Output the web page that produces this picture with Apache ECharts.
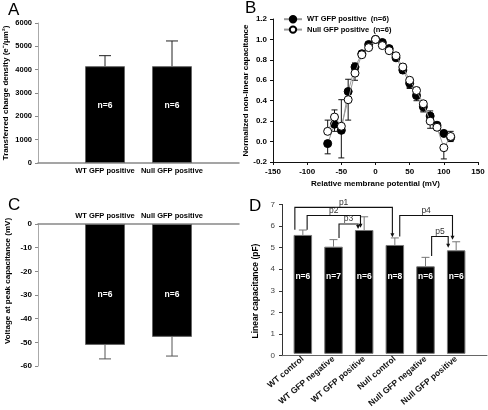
<!DOCTYPE html>
<html><head><meta charset="utf-8">
<script src="https://cdn.jsdelivr.net/npm/echarts@6/dist/echarts.min.js"></script>
<style>html,body{margin:0;padding:0;background:#fff}#c{width:488px;height:410px}</style>
</head><body><div id="c"></div>
<script>
const FONT = 'Liberation Sans, Arial, sans-serif';

// ---- Panel A ----
const catsA = ['WT GFP positive', 'Null GFP positive'];
const chargeDensity = [4150, 4150];
const chargeDensityErrTop = [4600, 5230];
const nA = ['n=6', 'n=6'];

// ---- Panel B ----
const potentials = [-70, -60, -50, -40, -30, -20, -10, 0, 10, 20, 30, 40, 50, 60, 70, 80, 90, 100, 110];
const wtNLC =        [-0.02, 0.17, 0.11, 0.49, 0.73, 0.86, 0.95, 1.00, 0.97, 0.91, 0.82, 0.70, 0.57, 0.45, 0.34, 0.25, 0.16, 0.08, 0.04];
const wtNLCErrTip =  [-0.12, 0.10, -0.16, 0.61, 0.77, 0.88, 0.97, 1.00, 0.98, 0.92, 0.80, 0.67, 0.53, 0.40, 0.30, 0.30, 0.15, 0.10, 0.00];
const nullNLC =      [0.10, 0.24, 0.15, 0.41, 0.67, 0.85, 0.92, 1.00, 0.94, 0.89, 0.84, 0.73, 0.60, 0.50, 0.37, 0.20, 0.14, -0.06, 0.05];
const nullNLCErrTip= [0.21, 0.31, 0.41, 0.21, 0.60, 0.83, 0.90, 1.00, 0.93, 0.87, 0.86, 0.76, 0.52, 0.53, 0.29, 0.13, 0.12, -0.17, 0.10];

// ---- Panel C ----
const catsC = ['WT GFP positive', 'Null GFP positive'];
const peakVoltage = [-51.1, -47.7];
const peakVoltageErrTip = [-57.0, -55.8];
const nC = ['n=6', 'n=6'];

// ---- Panel D ----
const catsD = ['WT control', 'WT GFP negative', 'WT GFP positive', 'Null control', 'Null GFP negative', 'Null GFP positive'];
const linearCap = [5.57, 5.02, 5.80, 5.10, 4.10, 4.85];
const linearCapErrTop = [5.80, 5.35, 6.42, 5.43, 4.52, 5.25];
const nD = ['n=6', 'n=7', 'n=6', 'n=8', 'n=6', 'n=6'];
// comparison brackets: [fromIdx, fromShift, toIdx, toShift, startY, topY, endY, label]
const brackets = [
  [0, -0.26, 3, -0.08, 5.81, 6.86, 5.46, 'p1'],
  [0,  0.14, 2, -0.12, 5.81, 6.48, 5.91, 'p2'],
  [1,  0.18, 2, -0.20, 5.43, 6.08, 5.85, 'p3'],
  [3,  0.16, 5, -0.12, 5.50, 6.48, 5.35, 'p4'],
  [4,  0.20, 5, -0.26, 4.58, 5.50, 4.97, 'p5']
];

function errRender(capW, color) {
  return function (params, api) {
    const x = api.value(0), v = api.value(1), tip = api.value(2);
    const p0 = api.coord([x, v]);
    const p1 = api.coord([x, tip]);
    return { type: 'group', children: [
      { type: 'line', shape: { x1: p0[0], y1: p0[1], x2: p1[0], y2: p1[1] }, style: { stroke: color, lineWidth: 1 } },
      { type: 'line', shape: { x1: p1[0] - capW / 2, y1: p1[1], x2: p1[0] + capW / 2, y2: p1[1] }, style: { stroke: color, lineWidth: 1 } }
    ]};
  };
}

function labelRender(fontSize) {
  return function (params, api) {
    const p = api.coord([api.value(0), api.value(1)]);
    return { type: 'text', x: p[0], y: p[1], style: {
      text: api.value(2), fontSize: fontSize, fontWeight: 'bold', fontFamily: FONT,
      fill: '#fff', align: 'center', verticalAlign: 'middle' } };
  };
}

function bracketRender(params, api) {
  const b = brackets[params.dataIndex];
  const band = api.size([1, 0])[0];
  const s = api.coord([b[0], b[4]]);
  const t = api.coord([b[0], b[5]]);
  const e = api.coord([b[2], b[6]]);
  const xl = s[0] + b[1] * band;
  const xr = e[0] + b[3] * band;
  const yt = t[1];
  const col = '#111';
  return { type: 'group', children: [
    { type: 'polyline', shape: { points: [[xl, s[1]], [xl, yt], [xr, yt], [xr, e[1] - 3]] }, style: { stroke: col, lineWidth: 1.1, fill: null } },
    { type: 'polygon', shape: { points: [[xr - 2, e[1] - 4], [xr + 2, e[1] - 4], [xr, e[1]]] }, style: { fill: col } },
    { type: 'text', x: (xl + xr) / 2, y: yt - 0.5, style: { text: b[7], fontSize: 8.5, fontFamily: FONT, fill: '#333', align: 'center', verticalAlign: 'bottom' } }
  ]};
}

const boldTxt = (sz) => ({ fontFamily: FONT, fontWeight: 'bold', fontSize: sz, color: '#000' });
const plain = v => String(v);

const chart = echarts.init(document.getElementById('c'), null, { renderer: 'canvas' });

const option = {
  backgroundColor: '#fff',
  animation: false,
  textStyle: { fontFamily: FONT },
  title: [
    { text: 'A', left: 3, top: -3, textStyle: { fontSize: 17, fontWeight: 'normal', color: '#000', fontFamily: FONT } },
    { text: 'B', left: 240, top: -5, textStyle: { fontSize: 17, fontWeight: 'normal', color: '#000', fontFamily: FONT } },
    { text: 'C', left: 3, top: 192, textStyle: { fontSize: 17, fontWeight: 'normal', color: '#000', fontFamily: FONT } },
    { text: 'D', left: 244, top: 193, textStyle: { fontSize: 17, fontWeight: 'normal', color: '#000', fontFamily: FONT } }
  ],
  legend: {
    left: 278, top: 10, orient: 'vertical', itemGap: 2, itemWidth: 18, itemHeight: 8,
    textStyle: boldTxt(7.5),
    data: ['WT GFP positive  (n=6)', 'Null GFP positive  (n=6)']
  },
  grid: [
    { left: 38, top: 23, width: 201, height: 140 },
    { left: 273, top: 19, width: 205, height: 143 },
    { left: 38, top: 224, width: 201, height: 142 },
    { left: 282, top: 204.4, width: 205, height: 151.3 },
    { left: 287.5, top: 204.4, width: 184, height: 151.3 }
  ],
  xAxis: [
    { gridIndex: 0, type: 'category', boundaryGap: false, data: ['', ...catsA, ''],
      axisLine: { lineStyle: { color: '#888', width: 1.5 } }, axisTick: { show: false },
      axisLabel: { ...boldTxt(7.5), margin: 4, interval: 0 }, splitLine: { show: false } },
    { gridIndex: 1, type: 'value', min: -150, max: 150, interval: 50,
      axisLine: { onZero: false, lineStyle: { color: '#111' } }, axisTick: { show: true, length: 3, lineStyle: { color: '#111' } },
      axisLabel: { ...boldTxt(8), margin: 6, formatter: plain }, splitLine: { show: false },
      name: 'Relative membrane potential (mV)', nameLocation: 'middle', nameGap: 18, nameTextStyle: boldTxt(8) },
    { gridIndex: 2, type: 'category', position: 'top', boundaryGap: false, data: ['', ...catsC, ''],
      axisLine: { lineStyle: { color: '#888', width: 1.5 } }, axisTick: { show: false },
      axisLabel: { ...boldTxt(7.5), margin: 4, interval: 0 }, splitLine: { show: false } },
    { gridIndex: 3, type: 'value', min: 0, max: 1, axisLine: { onZero: false, lineStyle: { color: '#666' } },
      axisTick: { show: false }, axisLabel: { show: false }, splitLine: { show: false } },
    { gridIndex: 4, type: 'category', data: catsD,
      axisLine: { show: false }, axisTick: { show: false },
      axisLabel: { ...boldTxt(8.5), color: '#111', rotate: 40, margin: 4, interval: 0 }, splitLine: { show: false } }
  ],
  yAxis: [
    { gridIndex: 0, type: 'value', min: 0, max: 6000, interval: 1000,
      axisLine: { show: true, lineStyle: { color: '#aaa' } }, axisTick: { show: true, length: 3, lineStyle: { color: '#888' } },
      axisLabel: { ...boldTxt(7.5), margin: 6, formatter: plain }, splitLine: { show: false },
      name: 'Transferred charge density (e\u207B/\u03BCm\u00B2)', nameLocation: 'middle', nameGap: 28, nameTextStyle: boldTxt(8) },
    { gridIndex: 1, type: 'value', min: -0.2, max: 1.2, interval: 0.2,
      axisLine: { show: true, onZero: false, lineStyle: { color: '#111' } }, axisTick: { show: true, length: 3, lineStyle: { color: '#111' } },
      axisLabel: { ...boldTxt(8), margin: 6, formatter: v => v.toFixed(1) }, splitLine: { show: false },
      name: 'Normalized non-linear capacitance', nameLocation: 'middle', nameGap: 22, nameTextStyle: boldTxt(8) },
    { gridIndex: 2, type: 'value', min: -60, max: 0, interval: 10,
      axisLine: { show: true, lineStyle: { color: '#aaa' } }, axisTick: { show: true, length: 3, lineStyle: { color: '#888' } },
      axisLabel: { ...boldTxt(8), margin: 6, formatter: plain }, splitLine: { show: false },
      name: 'Voltage at peak capacitance (mV)', nameLocation: 'middle', nameGap: 26,
      nameTextStyle: { ...boldTxt(8), padding: [0, 0, 0, 28] } },
    { gridIndex: 3, type: 'value', min: 0, max: 7, interval: 1,
      axisLine: { show: true, onZero: false, lineStyle: { color: '#333' } }, axisTick: { show: true, length: 3, lineStyle: { color: '#333' } },
      axisLabel: { fontFamily: FONT, fontSize: 8, color: '#444', margin: 7 }, splitLine: { show: false },
      name: 'Linear capacitance (pF)', nameLocation: 'middle', nameGap: 22,
      nameTextStyle: { ...boldTxt(8.5), padding: [0, 22, 0, 0] } },
    { gridIndex: 4, type: 'value', min: 0, max: 7, interval: 1, show: false }
  ],
  series: [
    // Panel A
    { type: 'bar', xAxisIndex: 0, yAxisIndex: 0, barWidth: 40,
      data: chargeDensity.map((v, i) => [i + 1, v]),
      itemStyle: { color: '#000', borderColor: '#666', borderWidth: 1 } },
    { type: 'custom', xAxisIndex: 0, yAxisIndex: 0, z: 5, renderItem: errRender(12, '#222'),
      data: chargeDensity.map((v, i) => [i + 1, v, chargeDensityErrTop[i]]) },
    { type: 'custom', xAxisIndex: 0, yAxisIndex: 0, z: 6, renderItem: labelRender(8.5),
      data: nA.map((t, i) => [i + 1, 2450, t]) },

    // Panel B
    { name: 'WT GFP positive  (n=6)', type: 'line', xAxisIndex: 1, yAxisIndex: 1,
      data: potentials.map((x, i) => [x, wtNLC[i]]),
      symbol: 'circle', symbolSize: 8, z: 3,
      lineStyle: { color: '#999', width: 1 },
      itemStyle: { color: '#000', borderColor: '#000', borderWidth: 1 } },
    { type: 'custom', xAxisIndex: 1, yAxisIndex: 1, z: 2, renderItem: errRender(6, '#111'),
      data: potentials.map((x, i) => [x, wtNLC[i], wtNLCErrTip[i]]) },
    { name: 'Null GFP positive  (n=6)', type: 'line', xAxisIndex: 1, yAxisIndex: 1,
      data: potentials.map((x, i) => [x, nullNLC[i]]),
      symbol: 'circle', symbolSize: 8, z: 4,
      lineStyle: { color: '#999', width: 1 },
      itemStyle: { color: '#fff', borderColor: '#000', borderWidth: 1 } },
    { type: 'custom', xAxisIndex: 1, yAxisIndex: 1, z: 2, renderItem: errRender(6, '#111'),
      data: potentials.map((x, i) => [x, nullNLC[i], nullNLCErrTip[i]]) },

    // Panel C
    { type: 'bar', xAxisIndex: 2, yAxisIndex: 2, barWidth: 40,
      data: peakVoltage.map((v, i) => [i + 1, v]),
      itemStyle: { color: '#000', borderColor: '#666', borderWidth: 1 } },
    { type: 'custom', xAxisIndex: 2, yAxisIndex: 2, z: 5, renderItem: errRender(12, '#555'),
      data: peakVoltage.map((v, i) => [i + 1, v, peakVoltageErrTip[i]]) },
    { type: 'custom', xAxisIndex: 2, yAxisIndex: 2, z: 6, renderItem: labelRender(8.5),
      data: nC.map((t, i) => [i + 1, -30, t]) },

    // Panel D
    { type: 'bar', xAxisIndex: 4, yAxisIndex: 4, barWidth: 18.5,
      data: linearCap,
      itemStyle: { color: '#000', borderColor: '#777', borderWidth: 1 } },
    { type: 'custom', xAxisIndex: 4, yAxisIndex: 4, z: 5, renderItem: errRender(8, '#777'),
      data: linearCap.map((v, i) => [i, v, linearCapErrTop[i]]) },
    { type: 'custom', xAxisIndex: 4, yAxisIndex: 4, z: 6, renderItem: labelRender(8.5),
      data: nD.map((t, i) => [i, 3.6, t]) },
    { type: 'custom', xAxisIndex: 4, yAxisIndex: 4, z: 7, renderItem: bracketRender,
      data: brackets.map(b => [b[0], b[5]]) }
  ]
};
chart.setOption(option);
</script></body></html>
